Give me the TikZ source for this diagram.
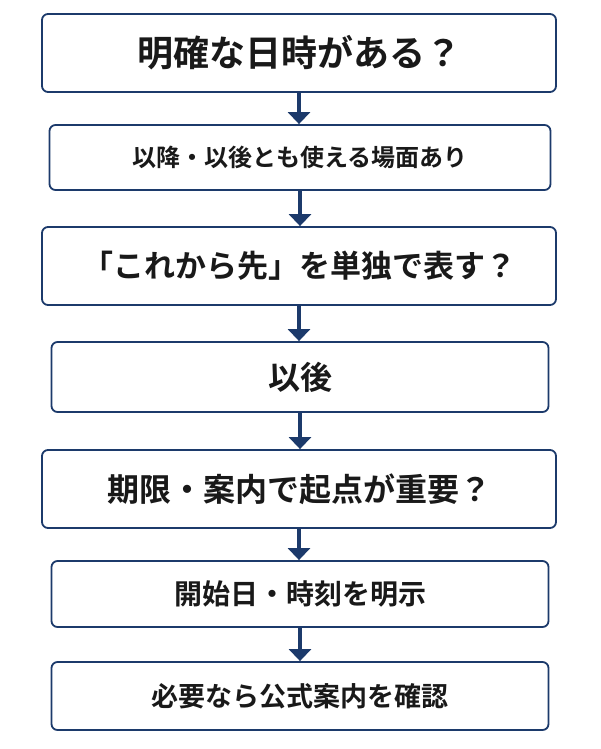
\documentclass[tikz,border=0pt]{standalone}
\usepackage{fontspec}
\newfontfamily\cjk{Noto Sans CJK JP}[BoldFont={* Bold}]
\usetikzlibrary{arrows.meta}
\definecolor{navy}{HTML}{1C3A6B}
\begin{document}
\begin{tikzpicture}[x=1pt,y=-1pt,
  box/.style={draw=navy,line width=1.8pt,rounded corners=6pt,fill=white,inner sep=0pt,text=black!90},
  arr/.style={draw=navy,line width=3.5pt,-{Triangle[length=12pt,width=22pt]}}]
\useasboundingbox (0,0) rectangle (600,749);
\node[box,minimum width=514pt,minimum height=78pt,font=\cjk\bfseries\fontsize{36}{38}\selectfont] (b1) at (299,53) {明確な日時がある？};
\node[box,minimum width=501pt,minimum height=65pt,font=\cjk\bfseries\fontsize{24}{26}\selectfont] (b2) at (300,157.5) {以降・以後とも使える場面あり};
\node[box,minimum width=514pt,minimum height=78pt,font=\cjk\bfseries\fontsize{31}{33}\selectfont] (b3) at (299,266) {「これから先」を単独で表す？};
\node[box,minimum width=497pt,minimum height=70pt,font=\cjk\bfseries\fontsize{32}{34}\selectfont] (b4) at (300,377) {以後};
\node[box,minimum width=514pt,minimum height=78pt,font=\cjk\bfseries\fontsize{32}{34}\selectfont] (b5) at (299,489) {期限・案内で起点が重要？};
\node[box,minimum width=497pt,minimum height=66pt,font=\cjk\bfseries\fontsize{28}{30}\selectfont] (b6) at (300,594) {開始日・時刻を明示};
\node[box,minimum width=497pt,minimum height=68pt,font=\cjk\bfseries\fontsize{27}{29}\selectfont] (b7) at (300,696) {必要なら公式案内を確認};
\foreach \a/\b in {b1/b2,b2/b3,b3/b4,b4/b5,b5/b6,b6/b7}
  \draw[arr] (\a.south) -- (\a.south |- \b.north);
\end{tikzpicture}
\end{document}
